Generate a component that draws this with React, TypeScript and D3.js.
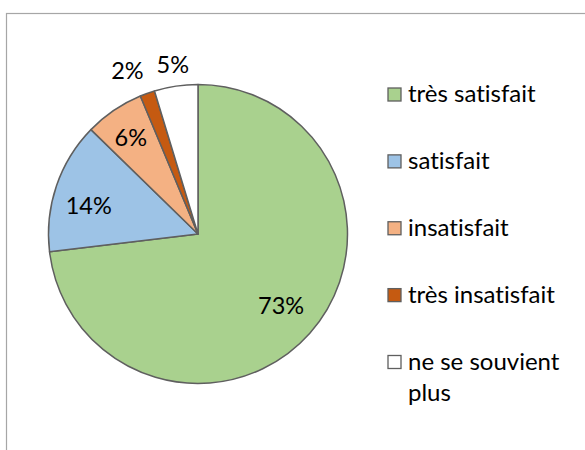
import * as d3 from 'd3';
import React, { useEffect, useRef } from 'react';

const categories = [
  "très satisfait",
  "satisfait",
  "insatisfait",
  "très insatisfait",
  "ne se souvient plus"
];

// share of answers
const values = [73.1, 14.2, 6.4, 1.6, 4.7];

const colors = [
  "#A9D18E",
  "#9DC3E6",
  "#F4B183",
  "#C55A11",
  "#FFFFFF"
];

// label placement (radius, angle nudge in degrees), like Excel's "best fit"
const labelRadius = [110, 113, 117.5, 178.5, 171];
const labelShift = [-0.7, -4, -0.7, -3.5, 0];

const W = 585;
const H = 450;
const FONT = "Lato, 'Open Sans', sans-serif";

export default function App() {
  const svgRef = useRef<SVGSVGElement>(null);

  useEffect(() => {
    const svg = d3.select(svgRef.current);
    svg.selectAll("*").remove();

    // chart area border (runs off the right and bottom edges)
    svg.append("rect")
      .attr("x", 6.5)
      .attr("y", 13.5)
      .attr("width", W)
      .attr("height", H)
      .attr("fill", "white")
      .attr("stroke", "#A6A6A6")
      .attr("stroke-width", 1.2);

    const cx = 198, cy = 234, r = 149.5;

    const pie = d3.pie<number>().sort(null).value(d => d);
    const arcs = pie(values);
    const arc = d3.arc<d3.PieArcDatum<number>>().innerRadius(0).outerRadius(r);

    const g = svg.append("g").attr("transform", `translate(${cx}, ${cy})`);

    g.selectAll("path")
      .data(arcs)
      .join("path")
      .attr("d", arc)
      .attr("fill", (d, i) => colors[i])
      .attr("stroke", "#5F5F5F")
      .attr("stroke-width", 1.5)
      .attr("stroke-linejoin", "round");

    g.selectAll("text.lbl")
      .data(arcs)
      .join("text")
      .attr("class", "lbl")
      .attr("x", (d, i) => {
        const a = (d.startAngle + d.endAngle) / 2 + labelShift[i] * Math.PI / 180;
        return Math.sin(a) * labelRadius[i];
      })
      .attr("y", (d, i) => {
        const a = (d.startAngle + d.endAngle) / 2 + labelShift[i] * Math.PI / 180;
        return -Math.cos(a) * labelRadius[i];
      })
      .attr("dy", "0.36em")
      .attr("text-anchor", "middle")
      .attr("font-family", FONT)
      .attr("font-size", 23.5)
      .attr("fill", "#000")
      .text(d => `${Math.round(d.data)}%`);

    // legend
    const legendY = d3.scalePoint<string>()
      .domain(categories)
      .range([94.5, 362]);

    const leg = svg.append("g");
    const maxW = 165;
    categories.forEach((c, i) => {
      const y = legendY(c)!;
      leg.append("rect")
        .attr("x", 388)
        .attr("y", y - 6.5)
        .attr("width", 13)
        .attr("height", 13)
        .attr("fill", colors[i])
        .attr("stroke", "#5F5F5F")
        .attr("stroke-width", 1.3);

      const txt = leg.append("text")
        .attr("x", 408)
        .attr("y", y + 7.5)
        .attr("font-family", FONT)
        .attr("font-size", 24)
        .style("font-variant-ligatures", "none")
        .style("font-feature-settings", "'liga' 0")
        .attr("fill", "#000");

      // simple word wrap
      const words = c.split(" ");
      let line: string[] = [];
      let tspan = txt.append("tspan").attr("x", 408).attr("dy", 0);
      words.forEach(w => {
        line.push(w);
        tspan.text(line.join(" "));
        if ((tspan.node() as SVGTSpanElement).getComputedTextLength() > maxW && line.length > 1) {
          line.pop();
          tspan.text(line.join(" "));
          line = [w];
          tspan = txt.append("tspan").attr("x", 408).attr("dy", 31).text(w);
        }
      });
    });
  }, []);

  return (
    <svg ref={svgRef} width={W} height={H}
      style={{ position: "absolute", left: 0, top: 0 }} />
  );
}
